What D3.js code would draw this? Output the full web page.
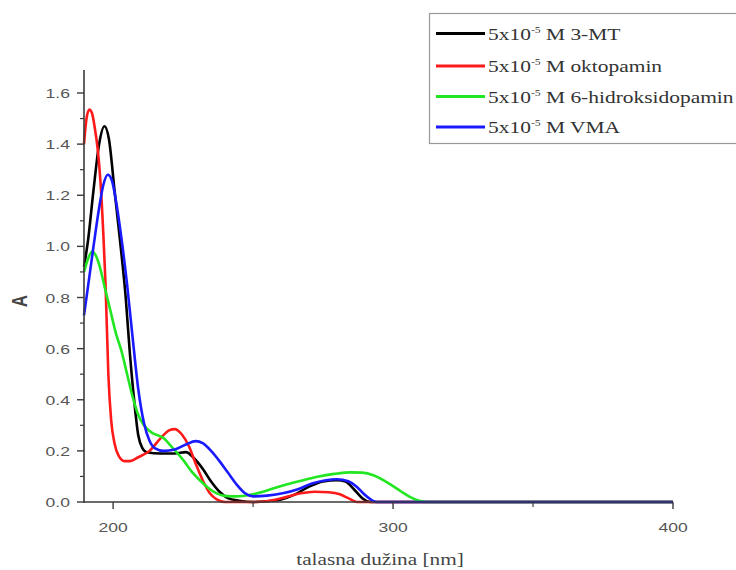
<!DOCTYPE html>
<html><head><meta charset="utf-8">
<script src="https://cdn.jsdelivr.net/npm/d3@7"></script>
<style>
body{margin:0;background:#fff}svg{display:block}
.sans{font-family:'Liberation Sans','Arial',sans-serif}
.serif{font-family:'Liberation Serif','Times New Roman',serif}
</style>
</head><body>
<svg id="c" width="736" height="570"></svg>
<script>
const seriesNames = ["3-MT", "oktopamin", "6-hidroksidopamin", "VMA"];
const seriesColors = ["#000000", "#ff1a1a", "#22e622", "#1a1aff"];

const wl3MT = [189.6,191,193,195,196.9,198.5,200.5,202.5,204.5,206,207.5,209,210.5,212,217,222,226,229,232,235,238,241,245,250,255,260,265,270,275,280,283,286,289,292,300,400];
const a3MT  = [0.92,1.02,1.22,1.40,1.47,1.42,1.22,1.02,0.80,0.58,0.40,0.26,0.21,0.195,0.19,0.19,0.195,0.17,0.13,0.08,0.04,0.015,0.005,0.0,0.003,0.01,0.03,0.06,0.08,0.085,0.08,0.05,0.015,0.0,0.0,0.0];

const wlOkt = [189.6,190.5,191.5,192.5,193.5,194.5,195.5,196.5,197.3,198.3,199.3,200.5,202,204,206,209,213,217,220,222,224.5,227,229.5,232,234.5,237,240,250,256,262,267,272,277,281,284,287,300,400];
const aOkt  = [1.40,1.50,1.535,1.52,1.46,1.38,1.25,1.05,0.85,0.50,0.32,0.23,0.18,0.16,0.16,0.175,0.20,0.25,0.28,0.285,0.265,0.22,0.15,0.085,0.035,0.01,0.0,0.0,0.005,0.02,0.034,0.04,0.038,0.03,0.015,0.0,0.0,0.0];

const wlHid = [189.6,191,192.5,193.5,195,197,199,201,203,205,207,209,211,214,218,221,225,228,231,234,237,240,244,249,255,261,267,273,279,285,289,293,297,300,303,306,309,312,400];
const aHid  = [0.90,0.95,0.98,0.97,0.93,0.84,0.75,0.66,0.59,0.50,0.41,0.34,0.30,0.27,0.25,0.215,0.165,0.12,0.085,0.055,0.034,0.024,0.022,0.028,0.045,0.066,0.083,0.099,0.11,0.116,0.115,0.105,0.083,0.062,0.04,0.02,0.006,0.0,0.0];

const wlVMA = [189.6,191,193,195,196.5,198.1,199.5,201,203,205,207,209,211,213,215,218,222,226,229.5,232,235,238,241,244,247,250,255,261,266,271,276,280,284,287,289.5,292,294,400];
const aVMA  = [0.73,0.84,1.00,1.15,1.24,1.28,1.26,1.18,1.03,0.85,0.64,0.44,0.31,0.24,0.21,0.20,0.205,0.225,0.238,0.23,0.20,0.16,0.115,0.07,0.035,0.022,0.025,0.035,0.05,0.072,0.085,0.089,0.081,0.06,0.032,0.01,0.0,0.0];

const xMajor = [200, 300, 400];
const xMinor = [250, 350];
const yMajor = [0.0, 0.2, 0.4, 0.6, 0.8, 1.0, 1.2, 1.4, 1.6];
const yMinor = [0.1, 0.3, 0.5, 0.7, 0.9, 1.1, 1.3, 1.5];

const svg = d3.select("#c");
const mLeft = 84, mRight = 673, mTop = 70, mBottom = 502;
const stretch = 1.3;
const x = d3.scaleLinear().domain([189.6, 400]).range([mLeft, mRight]);
const y = d3.scaleLinear().domain([0, 1.69]).range([mBottom, mTop]);

const axisColor = "#3a3a3a";
const g = svg.append("g");

// curves
const data = [[wl3MT,a3MT],[wlOkt,aOkt],[wlHid,aHid],[wlVMA,aVMA]];
const line = d3.line().x(d=>x(d[0])).y(d=>y(d[1])).curve(d3.curveMonotoneX);
data.forEach((s,i)=>{
  const pts = s[0].map((w,j)=>[w,s[1][j]]);
  g.append("path").attr("d", line(pts)).attr("fill","none")
   .attr("stroke", seriesColors[i]).attr("stroke-width", 2.6)
   .attr("stroke-linejoin","round");
});

function stext(parent, tx, ty, cls, size, anchor, fill, str, sx) {
  return parent.append("text")
    .attr("transform", `translate(${tx},${ty}) scale(${sx||stretch},1)`)
    .attr("class", cls).attr("font-size", size).attr("text-anchor", anchor)
    .attr("fill", fill).text(str);
}

// axes
const ax = svg.append("g");
ax.append("line").attr("x1",mLeft).attr("x2",mLeft).attr("y1",mTop).attr("y2",mBottom+1)
  .attr("stroke",axisColor).attr("stroke-width",1.6);
ax.append("line").attr("x1",mLeft).attr("x2",mRight).attr("y1",mBottom).attr("y2",mBottom)
  .attr("stroke",axisColor).attr("stroke-width",1.6);

yMajor.forEach(v=>{
  ax.append("line").attr("x1",mLeft-7).attr("x2",mLeft).attr("y1",y(v)).attr("y2",y(v))
    .attr("stroke",axisColor).attr("stroke-width",1.4);
  stext(ax, 70, y(v)+5, "sans", 13.5, "end", "#555", v.toFixed(1));
});
yMinor.forEach(v=>{
  ax.append("line").attr("x1",mLeft-4).attr("x2",mLeft).attr("y1",y(v)).attr("y2",y(v))
    .attr("stroke",axisColor).attr("stroke-width",1.2);
});
xMajor.forEach(v=>{
  ax.append("line").attr("x1",x(v)).attr("x2",x(v)).attr("y1",mBottom).attr("y2",mBottom+7)
    .attr("stroke",axisColor).attr("stroke-width",1.4);
  stext(ax, x(v), 532, "sans", 13.5, "middle", "#555", String(v));
});
xMinor.forEach(v=>{
  ax.append("line").attr("x1",x(v)).attr("x2",x(v)).attr("y1",mBottom).attr("y2",mBottom+5)
    .attr("stroke",axisColor).attr("stroke-width",1.2);
});

stext(svg, 380, 565, "serif", 17, "middle", "#444", "talasna dužina [nm]", 1.25);
svg.append("text").attr("transform","translate(27,301) rotate(-90) scale(1,1.25)").attr("text-anchor","middle")
  .attr("class","sans").attr("font-size",17).attr("font-weight","bold")
  .attr("fill","#444").text("A");

// legend
const lg = svg.append("g");
lg.append("rect").attr("x",429.5).attr("y",13.5).attr("width",320).attr("height",130)
  .attr("fill","#fff").attr("stroke","#999").attr("stroke-width",1.2);
const ly = [33.5, 66, 96.5, 127];
seriesNames.forEach((n,i)=>{
  lg.append("line").attr("x1",436).attr("x2",485).attr("y1",ly[i]).attr("y2",ly[i])
    .attr("stroke",seriesColors[i]).attr("stroke-width",3);
  const t = lg.append("text").attr("transform",`translate(488,${ly[i]+6}) scale(1.3,1)`)
    .attr("class","serif").attr("font-size",16.5).attr("fill","#333");
  t.append("tspan").text("5x10");
  t.append("tspan").attr("dy",-7).attr("font-size",9).text("-5");
  t.append("tspan").attr("dy",7).text(" M " + n);
});
</script>
</body></html>
